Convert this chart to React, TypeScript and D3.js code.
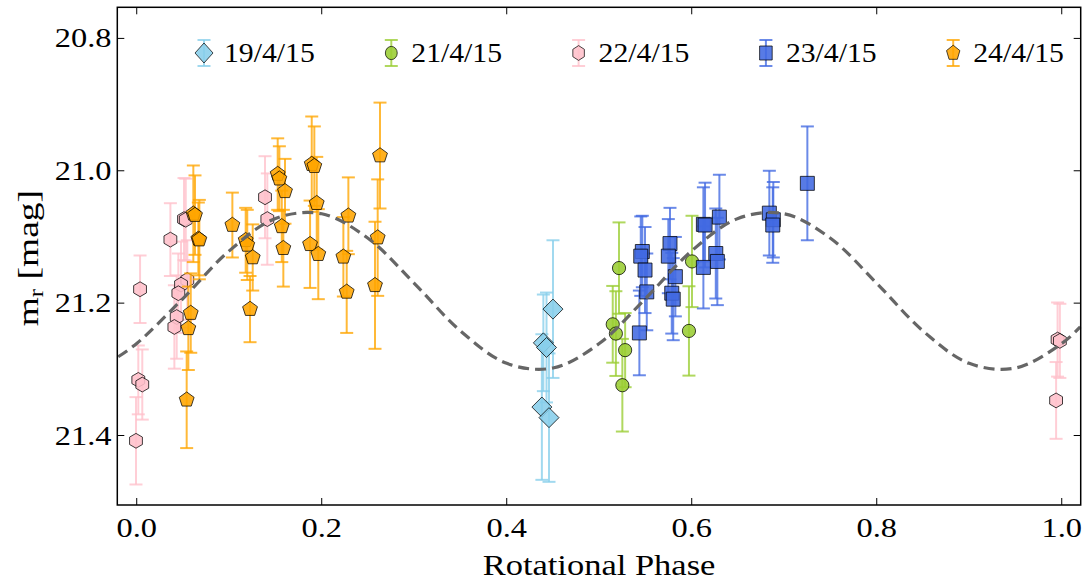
import React from 'react';
import * as d3 from 'd3';

const W = 1089;
const H = 583;

const xDomain = [-0.021, 1.0205];
const yDomain = [20.753, 21.505];
const xTicks = [0.0, 0.2, 0.4, 0.6, 0.8, 1.0];
const yTicks = [20.8, 21.0, 21.2, 21.4];

const seriesLabels = ['19/4/15', '21/4/15', '22/4/15', '23/4/15', '24/4/15'];

const phase19 = [0.450, 0.4396, 0.443, 0.438, 0.4457];
const mag19 = [21.209, 21.260, 21.267, 21.357, 21.373];
const err19 = [0.104, 0.073, 0.083, 0.11, 0.097];

const phase21 = [0.5214, 0.5146, 0.518, 0.528, 0.525, 0.6003, 0.597];
const mag21 = [21.147, 21.232, 21.246, 21.271, 21.324, 21.137, 21.242];
const err21 = [0.069, 0.058, 0.064, 0.056, 0.07, 0.069, 0.0675];

const phase22 = [0.0036, 0.0364, 0.0511, 0.053, 0.1387, 0.1412, 0.0547, 0.0479, 0.045, 0.0432, 0.0407, 0.0017, 0.006, -0.0008, 0.9939, 0.9955, 0.998];
const mag22 = [21.179, 21.104, 21.073, 21.074, 21.040, 21.073, 21.165, 21.172, 21.185, 21.221, 21.236, 21.316, 21.323, 21.408, 21.347, 21.255, 21.257];
const err22 = [0.051, 0.055, 0.062, 0.062, 0.062, 0.069, 0.06, 0.065, 0.06, 0.063, 0.063, 0.052, 0.053, 0.066, 0.058, 0.056, 0.056];

const phase23 = [0.5466, 0.5449, 0.5495, 0.5514, 0.5434, 0.5765, 0.5747, 0.5823, 0.5784, 0.580, 0.6126, 0.6144, 0.626, 0.6277, 0.6126, 0.6299, 0.6839, 0.6882, 0.6876, 0.725];
const mag23 = [21.122, 21.129, 21.150, 21.183, 21.245, 21.110, 21.129, 21.160, 21.185, 21.194, 21.081, 21.082, 21.125, 21.137, 21.146, 21.070, 21.064, 21.074, 21.082, 21.019];
const err23 = [0.054, 0.06, 0.065, 0.058, 0.064, 0.054, 0.056, 0.06, 0.061, 0.062, 0.056, 0.064, 0.068, 0.066, 0.062, 0.064, 0.064, 0.057, 0.057, 0.086];

const phase24 = [0.0612, 0.063, 0.0666, 0.0677, 0.0584, 0.0558, 0.054, 0.1034, 0.1178, 0.1195, 0.1254, 0.1225, 0.1524, 0.1542, 0.1603, 0.1568, 0.1585, 0.1892, 0.192, 0.1946, 0.1874, 0.1963, 0.2288, 0.2234, 0.227, 0.263, 0.2605, 0.2576];
const mag24 = [21.065, 21.067, 21.103, 21.104, 21.215, 21.238, 21.346, 21.082, 21.105, 21.112, 21.131, 21.209, 21.005, 21.012, 21.031, 21.084, 21.117, 20.990, 20.993, 21.049, 21.111, 21.126, 21.068, 21.130, 21.183, 20.977, 21.101, 21.173];
const err24 = [0.073, 0.06, 0.055, 0.06, 0.06, 0.063, 0.073, 0.049, 0.049, 0.053, 0.05, 0.05, 0.054, 0.049, 0.049, 0.054, 0.058, 0.072, 0.06, 0.07, 0.066, 0.068, 0.058, 0.06, 0.062, 0.08, 0.088, 0.096];

const fitPhase = [-0.02, 0, 0.05, 0.1, 0.15, 0.2, 0.25, 0.3, 0.35, 0.4, 0.45, 0.5, 0.55, 0.6, 0.65, 0.7, 0.75, 0.8, 0.85, 0.9, 0.95, 1.0, 1.02];
const fitMag = [21.281, 21.261, 21.193, 21.121, 21.072, 21.065, 21.102, 21.170, 21.242, 21.291, 21.298, 21.261, 21.193, 21.121, 21.072, 21.065, 21.102, 21.170, 21.242, 21.291, 21.298, 21.261, 21.236];

const styles = [
  { color: '#87CEEB', marker: 'diamond' },
  { color: '#9ACD32', marker: 'circle' },
  { color: '#FFC0CB', marker: 'hexagon' },
  { color: '#4169E1', marker: 'square' },
  { color: '#FFA500', marker: 'pentagon' },
];

const seriesData = [
  [phase19, mag19, err19],
  [phase21, mag21, err21],
  [phase22, mag22, err22],
  [phase23, mag23, err23],
  [phase24, mag24, err24],
];

const FONT = '"Liberation Serif", "Times New Roman", serif';

function polyPoints(n: number, r: number, rot: number): string {
  const pts: string[] = [];
  for (let i = 0; i < n; i++) {
    const a = rot + (i * 2 * Math.PI) / n;
    pts.push(`${(r * Math.sin(a)).toFixed(2)},${(-r * Math.cos(a)).toFixed(2)}`);
  }
  return pts.join(' ');
}

function Marker({ type, color }: { type: string; color: string }) {
  const common = {
    fill: color,
    fillOpacity: 0.88,
    stroke: '#000',
    strokeOpacity: 0.75,
    strokeWidth: 1,
  };
  if (type === 'circle') return <circle r={6.6} {...common} />;
  if (type === 'diamond') return <polygon points={polyPoints(4, 10, 0)} {...common} />;
  if (type === 'square') return <polygon points={polyPoints(4, 9.9, Math.PI / 4)} {...common} />;
  if (type === 'pentagon') return <polygon points={polyPoints(5, 7.8, 0)} {...common} />;
  return <polygon points={polyPoints(6, 7.4, 0)} {...common} />;
}

export default function App() {
  const x = d3.scaleLinear().domain(xDomain).range([117.3, 1080.7]);
  const y = d3.scaleLinear().domain(yDomain).range([7.3, 505]);
  const [x0, x1] = x.range();
  const [y0, y1] = y.range();
  const fmt = d3.format('.1f');
  const tickLen = 7;
  const cap = 6.5;

  const line = d3
    .line<number>()
    .x((_, i) => x(fitPhase[i]))
    .y((d) => y(d))
    .curve(d3.curveCatmullRom.alpha(0.5));

  const legendX0 = 204;
  const legendStep = 187.3;
  const legendY = 53;

  return (
    <svg
      width={W}
      height={H}
      viewBox={`0 0 ${W} ${H}`}
      style={{ position: 'absolute', left: 0, top: 0, background: '#fff' }}
      fontFamily={FONT}
    >
      <rect x={0} y={0} width={W} height={H} fill="#fff" />

      {seriesData.map(([ph, mg, er], si) => {
        const st = styles[si];
        return (
          <g key={si}>
            {ph.map((p, i) => {
              const cx = x(p);
              const top = y(mg[i] - er[i]);
              const bot = y(mg[i] + er[i]);
              return (
                <g key={i} stroke={st.color} strokeOpacity={0.78} strokeWidth={2}>
                  <line x1={cx} x2={cx} y1={top} y2={bot} />
                  <line x1={cx - cap} x2={cx + cap} y1={top} y2={top} />
                  <line x1={cx - cap} x2={cx + cap} y1={bot} y2={bot} />
                </g>
              );
            })}
            {ph.map((p, i) => (
              <g key={'m' + i} transform={`translate(${x(p)},${y(mg[i])})`}>
                <Marker type={st.marker} color={st.color} />
              </g>
            ))}
          </g>
        );
      })}

      <path
        d={line(fitMag) || ''}
        fill="none"
        stroke="#666666"
        strokeWidth={3.2}
        strokeDasharray="11,6"
      />

      {/* frame */}
      <rect x={x0} y={y0} width={x1 - x0} height={y1 - y0} fill="none" stroke="#000" strokeWidth={1.5} />

      {/* x ticks */}
      {xTicks.map((t) => (
        <g key={'xt' + t}>
          <line x1={x(t)} x2={x(t)} y1={y1} y2={y1 - tickLen} stroke="#000" strokeWidth={1} />
          <line x1={x(t)} x2={x(t)} y1={y0} y2={y0 + tickLen} stroke="#000" strokeWidth={1} />
          <text
            transform={`translate(${x(t)},${537}) scale(1.2,1)`}
            textAnchor="middle"
            fontSize={27}
            fill="#000"
          >
            {fmt(t)}
          </text>
        </g>
      ))}

      {/* y ticks */}
      {yTicks.map((t) => (
        <g key={'yt' + t}>
          <line x1={x0} x2={x0 + tickLen} y1={y(t)} y2={y(t)} stroke="#000" strokeWidth={1} />
          <line x1={x1} x2={x1 - tickLen} y1={y(t)} y2={y(t)} stroke="#000" strokeWidth={1} />
          <text
            transform={`translate(${111.5},${y(t) + 9}) scale(1.2,1)`}
            textAnchor="end"
            fontSize={27}
            fill="#000"
          >
            {fmt(t)}
          </text>
        </g>
      ))}

      {/* axis labels */}
      <text
        transform={`translate(${(x0 + x1) / 2},${575}) scale(1.15,1)`}
        textAnchor="middle"
        fontSize={30}
        fill="#000"
      >
        Rotational Phase
      </text>
      <text
        transform={`translate(${38},${(y0 + y1) / 2 + 2}) rotate(-90) scale(1.25,1)`}
        textAnchor="middle"
        fontSize={30}
        fill="#000"
      >
        <tspan>m</tspan>
        <tspan fontSize={20} dy={5}>r</tspan>
        <tspan dy={-5}> [mag]</tspan>
      </text>

      {/* legend */}
      {seriesLabels.map((lab, i) => {
        const lx = legendX0 + i * legendStep;
        const st = styles[i];
        return (
          <g key={'lg' + i}>
            <g stroke={st.color} strokeOpacity={0.78} strokeWidth={2}>
              <line x1={lx} x2={lx} y1={legendY - 13} y2={legendY + 13} />
              <line x1={lx - cap} x2={lx + cap} y1={legendY - 13} y2={legendY - 13} />
              <line x1={lx - cap} x2={lx + cap} y1={legendY + 13} y2={legendY + 13} />
            </g>
            <g transform={`translate(${lx},${legendY}) scale(0.9,1)`}>
              <Marker type={st.marker} color={st.color} />
            </g>
            <text
              transform={`translate(${lx + 20},${legendY + 9}) scale(1.1,1)`}
              textAnchor="start"
              fontSize={27}
              fill="#000"
            >
              {lab}
            </text>
          </g>
        );
      })}
    </svg>
  );
}
